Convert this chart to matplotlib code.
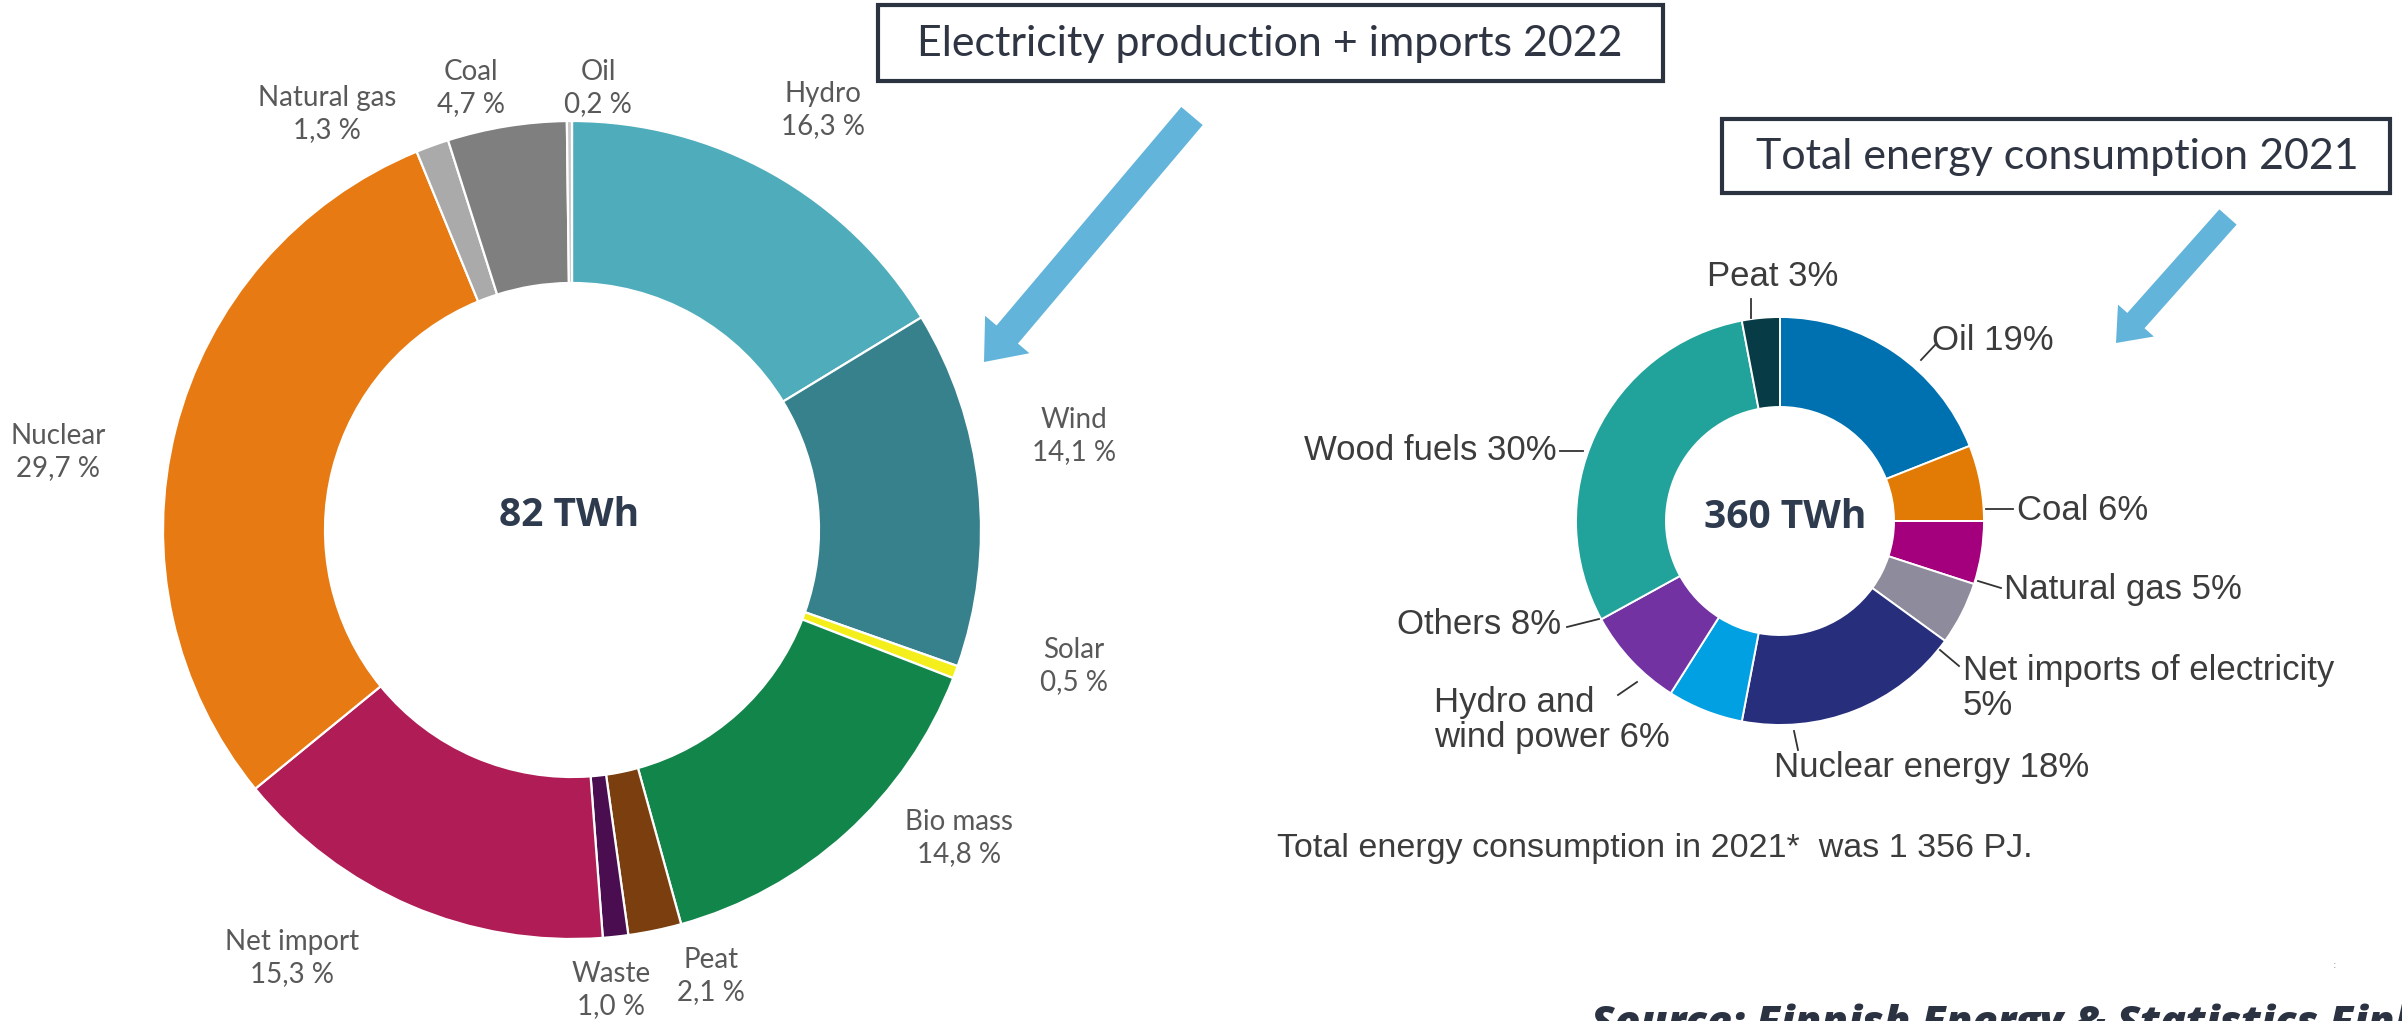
import matplotlib.pyplot as plt
from matplotlib.patches import FancyArrow, Rectangle

W, H = 2402, 1021

# Electricity production + imports 2022, clockwise from 12 o'clock
elec_names = ["Hydro", "Wind", "Solar", "Bio mass", "Peat", "Waste",
              "Net import", "Nuclear", "Natural gas", "Coal", "Oil"]
elec_share = [16.3, 14.1, 0.5, 14.8, 2.1, 1.0, 15.3, 29.7, 1.3, 4.7, 0.2]
elec_colors = ["#4eacbb", "#37818d", "#f4ef1c", "#12854a", "#7a3e0f", "#4a0d50",
               "#b01c56", "#e77a12", "#aaaaaa", "#7f7f7f", "#c8c8c8"]
elec_total = "82 TWh"

# Total energy consumption 2021, clockwise from 12 o'clock
tot_names = ["Oil", "Coal", "Natural gas", "Net imports of electricity",
             "Nuclear energy", "Hydro and\nwind power", "Others", "Wood fuels", "Peat"]
tot_share = [19, 6, 5, 5, 18, 6, 8, 30, 3]
tot_colors = ["#0071b0", "#e27b05", "#a4007e", "#8d8b9c", "#272e7c",
              "#00a0e2", "#7232a2", "#21a39b", "#073b45"]
tot_total = "360 TWh"

# layout (pixels from top-left)
elec_center, elec_r, elec_w = (572, 530), 409, 162
tot_center, tot_r, tot_w = (1780, 521), 204, 90

elec_lab_pos = [(823, 110), (1074, 436), (1074, 666), (959, 838), (711, 976),
                (611, 990), (292, 958), (58, 452), (327, 114), (471, 88), (598, 88)]
# x, y, ha, separator between name and value
tot_lab_pos = [(1932, 341, "left", " "), (2017, 510, "left", " "),
               (2004, 590, "left", " "), (1963, 688, "left", "\n"),
               (1774, 768, "left", " "), (1434, 720, "left", " "),
               (1561, 624, "right", " "), (1557, 451, "right", " "),
               (1773, 276, "center", " ")]
tot_leaders = [((1921, 360), (1936, 344)), ((1986, 509), (2013, 509)),
               ((1978, 581), (2001, 588)), ((1940, 650), (1959, 666)),
               ((1794, 731), (1798, 750)), ((1618, 695), (1637, 682)),
               ((1567, 627), (1599, 619)), ((1560, 451), (1583, 451)),
               ((1751, 299), (1751, 318))]


def Y(y):
    return H - y


fig = plt.figure(figsize=(W / 100, H / 100), dpi=100)
ax = fig.add_axes([0, 0, 1, 1])

ax.pie(elec_share, colors=elec_colors, startangle=90, counterclock=False,
       center=(elec_center[0], Y(elec_center[1])), radius=elec_r,
       wedgeprops=dict(width=elec_w, edgecolor="white", linewidth=1.6))
ax.pie(tot_share, colors=tot_colors, startangle=90, counterclock=False,
       center=(tot_center[0], Y(tot_center[1])), radius=tot_r,
       wedgeprops=dict(width=tot_w, edgecolor="white", linewidth=1.4))

ax.set_xlim(0, W)
ax.set_ylim(0, H)
ax.set_aspect("equal")
ax.axis("off")

# left labels
for name, v, (x, y) in zip(elec_names, elec_share, elec_lab_pos):
    s = f"{name}\n{v:.1f} %".replace(".", ",")
    ax.text(x, Y(y), s, ha="center", va="center", fontsize=20, family="Lato",
            color="#595959", linespacing=1.3)

# right labels
for name, v, (x, y, ha, sep) in zip(tot_names, tot_share, tot_lab_pos):
    ax.text(x, Y(y), f"{name}{sep}{v}%", ha=ha, va="center", fontsize=25,
            family="Liberation Sans", color="#3c3c3c", linespacing=1.1)
for (x0, y0), (x1, y1) in tot_leaders:
    ax.plot([x0, x1], [Y(y0), Y(y1)], color="#333333", lw=1.3)

ax.text(1277, Y(849), "Total energy consumption in 2021*  was 1 356 PJ.",
        ha="left", va="center", fontsize=24.5, family="Liberation Sans", color="#3c3c3c")

# totals in the holes
ax.text(elec_center[0] - 3, Y(516), elec_total, ha="center", va="center",
        fontsize=28, weight="bold", family="Open Sans", color="#2e3a4e")
ax.text(1785, Y(517), tot_total, ha="center", va="center",
        fontsize=28, weight="bold", family="Open Sans", color="#2e3a4e")

# title boxes
ax.add_patch(Rectangle((878, Y(81)), 785, 76, fill=False, ec="#2b3240", lw=3))
ax.text(1270, Y(44), "Electricity production + imports 2022", ha="center", va="center",
        fontsize=31, family="Lato", color="#2f3542")
ax.add_patch(Rectangle((1722, Y(193)), 668, 74, fill=False, ec="#2b3240", lw=3))
ax.text(2057, Y(157), "Total energy consumption 2021", ha="center", va="center",
        fontsize=31, family="Lato", color="#2f3542")

# arrows
arrow_col = "#62b4da"
ax.add_patch(FancyArrow(1192, Y(116), 984 - 1192, Y(362) - Y(116), width=28,
                        head_width=58, head_length=36, length_includes_head=True,
                        color=arrow_col, lw=0))
ax.add_patch(FancyArrow(2228, Y(217), 2116 - 2228, Y(343) - Y(217), width=23,
                        head_width=48, head_length=30, length_includes_head=True,
                        color=arrow_col, lw=0))

ax.text(2335, Y(965), ":", ha="center", va="center", fontsize=8, color="#999999")

# source line, cut by the bottom edge as in the original slide
ax.text(1591, Y(1004), "Source: Finnish Energy & Statistics Finland", ha="left", va="top",
        fontsize=31, weight="heavy", style="italic", family="Open Sans", color="#2b3343")

fig.savefig("out.png", dpi=100)
